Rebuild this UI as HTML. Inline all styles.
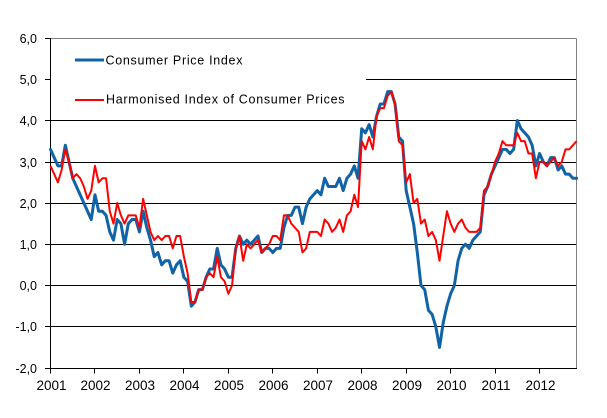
<!DOCTYPE html>
<html>
<head>
<meta charset="utf-8">
<style>
  html, body { margin: 0; padding: 0; background: #ffffff; }
  body { width: 607px; height: 418px; overflow: hidden; }
  svg { display: block; }
  text { font-family: "Liberation Sans", Arial, sans-serif; fill: #000; }
</style>
</head>
<body>
<svg width="607" height="418" viewBox="0 0 607 418" xmlns="http://www.w3.org/2000/svg">
  <rect x="0" y="0" width="607" height="418" fill="#ffffff"/>

  <!-- gridlines -->
  <g stroke="#000" stroke-width="1" shape-rendering="crispEdges">
    <line x1="366" y1="79.5" x2="576.5" y2="79.5"/>
    <line x1="50.5" y1="120.5" x2="576.5" y2="120.5"/>
    <line x1="50.5" y1="162.5" x2="576.5" y2="162.5"/>
    <line x1="50.5" y1="203.5" x2="576.5" y2="203.5"/>
    <line x1="50.5" y1="244.5" x2="576.5" y2="244.5"/>
    <line x1="50.5" y1="285.5" x2="576.5" y2="285.5"/>
    <line x1="50.5" y1="326.5" x2="576.5" y2="326.5"/>
  </g>

  <!-- plot border (top & right gray) -->
  <g stroke="#808080" stroke-width="1" shape-rendering="crispEdges">
    <line x1="50.5" y1="38.5" x2="576.5" y2="38.5"/>
    <line x1="576.5" y1="38.5" x2="576.5" y2="368.5"/>
  </g>

  <!-- axes -->
  <g stroke="#000" stroke-width="1" shape-rendering="crispEdges">
    <line x1="50.5" y1="38" x2="50.5" y2="368.5"/>
    <line x1="50" y1="368.5" x2="577" y2="368.5"/>
    <!-- y ticks -->
    <line x1="45" y1="38.5" x2="50.5" y2="38.5"/>
    <line x1="45" y1="79.5" x2="50.5" y2="79.5"/>
    <line x1="45" y1="120.5" x2="50.5" y2="120.5"/>
    <line x1="45" y1="162.5" x2="50.5" y2="162.5"/>
    <line x1="45" y1="203.5" x2="50.5" y2="203.5"/>
    <line x1="45" y1="244.5" x2="50.5" y2="244.5"/>
    <line x1="45" y1="285.5" x2="50.5" y2="285.5"/>
    <line x1="45" y1="326.5" x2="50.5" y2="326.5"/>
    <line x1="45" y1="368.5" x2="50.5" y2="368.5"/>
    <!-- x ticks -->
    <line x1="50.5" y1="368.5" x2="50.5" y2="373.5"/>
    <line x1="94.5" y1="368.5" x2="94.5" y2="373.5"/>
    <line x1="139.5" y1="368.5" x2="139.5" y2="373.5"/>
    <line x1="183.5" y1="368.5" x2="183.5" y2="373.5"/>
    <line x1="228.5" y1="368.5" x2="228.5" y2="373.5"/>
    <line x1="272.5" y1="368.5" x2="272.5" y2="373.5"/>
    <line x1="317.5" y1="368.5" x2="317.5" y2="373.5"/>
    <line x1="361.5" y1="368.5" x2="361.5" y2="373.5"/>
    <line x1="406.5" y1="368.5" x2="406.5" y2="373.5"/>
    <line x1="450.5" y1="368.5" x2="450.5" y2="373.5"/>
    <line x1="495.5" y1="368.5" x2="495.5" y2="373.5"/>
    <line x1="539.5" y1="368.5" x2="539.5" y2="373.5"/>
  </g>

  <!-- y labels -->
  <g font-size="12.5" text-anchor="end">
    <text x="37" y="43">6,0</text>
    <text x="37" y="84">5,0</text>
    <text x="37" y="125">4,0</text>
    <text x="37" y="167">3,0</text>
    <text x="37" y="208">2,0</text>
    <text x="37" y="249">1,0</text>
    <text x="37" y="290">0,0</text>
    <text x="37" y="331">-1,0</text>
    <text x="37" y="373">-2,0</text>
  </g>

  <!-- x labels -->
  <g font-size="13.5" text-anchor="middle">
    <text x="51.5" y="390">2001</text>
    <text x="95.5" y="390">2002</text>
    <text x="140" y="390">2003</text>
    <text x="184.5" y="390">2004</text>
    <text x="229" y="390">2005</text>
    <text x="273.5" y="390">2006</text>
    <text x="318" y="390">2007</text>
    <text x="362.5" y="390">2008</text>
    <text x="407" y="390">2009</text>
    <text x="451.5" y="390">2010</text>
    <text x="496" y="390">2011</text>
    <text x="540.5" y="390">2012</text>
  </g>

  <!-- series -->
  <g transform="translate(50.5,285.5) scale(3.705,-41.25)">
    <polyline fill="none" stroke="#1063A6" stroke-width="3" stroke-linejoin="round" stroke-linecap="round" vector-effect="non-scaling-stroke"
      points="0,3.3 1,3.1 2,2.9 3,2.9 4,3.4 5,3.0 6,2.6 7,2.4 8,2.2 9,2.0 10,1.8 11,1.6 12,2.2 13,1.8 14,1.8 15,1.7 16,1.3 17,1.1 18,1.6 19,1.5 20,1.0 21,1.5 22,1.6 23,1.6 24,1.3 25,1.8 26,1.4 27,1.1 28,0.7 29,0.8 30,0.5 31,0.6 32,0.6 33,0.3 34,0.5 35,0.6 36,0.2 37,0.1 38,-0.5 39,-0.4 40,-0.1 41,-0.1 42,0.2 43,0.4 44,0.4 45,0.9 46,0.5 47,0.4 48,0.2 49,0.2 50,0.9 51,1.2 52,1.0 53,1.1 54,1.0 55,1.1 56,1.2 57,0.8 58,0.9 59,0.9 60,0.8 61,0.9 62,0.9 63,1.4 64,1.7 65,1.7 66,1.9 67,1.9 68,1.5 69,1.9 70,2.1 71,2.2 72,2.3 73,2.2 74,2.6 75,2.4 76,2.4 77,2.4 78,2.6 79,2.3 80,2.6 81,2.7 82,2.9 83,2.6 84,3.8 85,3.7 86,3.9 87,3.6 88,4.1 89,4.4 90,4.4 91,4.7 92,4.7 93,4.4 94,3.6 95,3.5 96,2.3 97,1.9 98,1.5 99,0.8 100,0.0 101,-0.1 102,-0.6 103,-0.7 104,-1.0 105,-1.5 106,-0.9 107,-0.5 108,-0.2 109,0.0 110,0.6 111,0.9 112,1.0 113,0.9 114,1.1 115,1.2 116,1.3 117,2.2 118,2.4 119,2.7 120,2.9 121,3.1 122,3.3 123,3.3 124,3.2 125,3.3 126,4.0 127,3.8 128,3.7 129,3.6 130,3.4 131,2.9 132,3.2 133,3.0 134,2.9 135,3.1 136,3.1 137,2.8 138,2.9 139,2.7 140,2.7 141,2.6 142,2.6"/>
    <polyline fill="none" stroke="#FF0000" stroke-width="2" stroke-linejoin="round" vector-effect="non-scaling-stroke"
      points="0,2.9 1,2.7 2,2.5 3,2.8 4,3.3 5,3.0 6,2.6 7,2.7 8,2.6 9,2.4 10,2.1 11,2.3 12,2.9 13,2.5 14,2.6 15,2.6 16,1.8 17,1.5 18,2.0 19,1.7 20,1.5 21,1.7 22,1.7 23,1.7 24,1.4 25,2.1 26,1.7 27,1.3 28,1.1 29,1.2 30,1.1 31,1.2 32,1.2 33,0.9 34,1.2 35,1.2 36,0.7 37,0.3 38,-0.4 39,-0.4 40,-0.1 41,-0.1 42,0.2 43,0.3 44,0.2 45,0.7 46,0.2 47,0.1 48,-0.2 49,0.0 50,0.9 51,1.2 52,0.6 53,1.0 54,0.9 55,1.0 56,1.1 57,0.8 58,0.9 59,1.0 60,1.2 61,1.2 62,1.1 63,1.7 64,1.7 65,1.5 66,1.4 67,1.3 68,0.8 69,0.9 70,1.3 71,1.3 72,1.3 73,1.2 74,1.6 75,1.5 76,1.3 77,1.4 78,1.6 79,1.3 80,1.7 81,1.8 82,2.2 83,1.9 84,3.5 85,3.3 86,3.6 87,3.3 88,4.1 89,4.3 90,4.3 91,4.6 92,4.7 93,4.4 94,3.5 95,3.4 96,2.5 97,2.7 98,2.0 99,2.1 100,1.5 101,1.6 102,1.2 103,1.3 104,1.1 105,0.6 106,1.2 107,1.8 108,1.5 109,1.3 110,1.5 111,1.6 112,1.4 113,1.3 114,1.3 115,1.3 116,1.4 117,2.3 118,2.4 119,2.7 120,3.0 121,3.2 122,3.5 123,3.4 124,3.4 125,3.4 126,3.7 127,3.5 128,3.5 129,3.2 130,3.2 131,2.6 132,3.0 133,3.0 134,2.9 135,3.0 136,3.1 137,2.9 138,3.0 139,3.3 140,3.3 141,3.4 142,3.5"/>
  </g>

  <!-- legend -->
  <line x1="75" y1="60" x2="104" y2="60" stroke="#1063A6" stroke-width="3"/>
  <text x="105.5" y="64.5" font-size="12.5" letter-spacing="0.7">Consumer Price Index</text>
  <line x1="75" y1="100" x2="104" y2="100" stroke="#FF0000" stroke-width="2"/>
  <text x="106" y="103.5" font-size="12.5" letter-spacing="0.7">Harmonised Index of Consumer Prices</text>
</svg>
</body>
</html>
